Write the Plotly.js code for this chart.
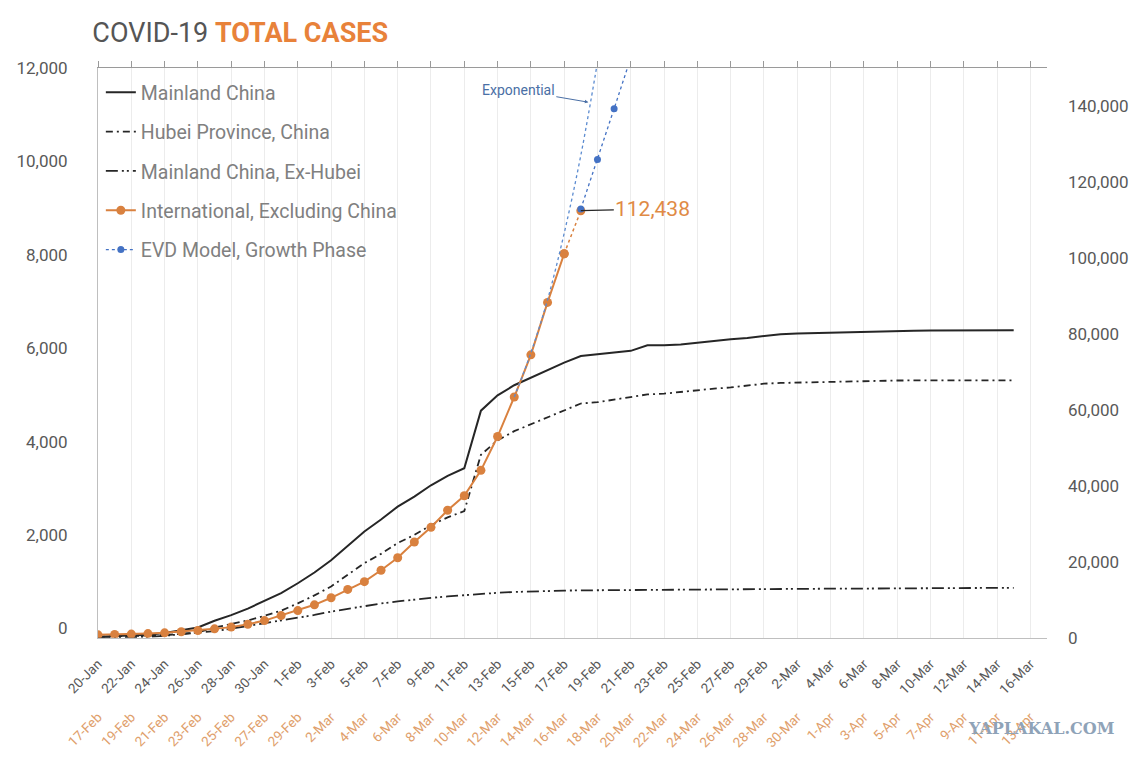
<!DOCTYPE html>
<html>
<head>
<meta charset="utf-8">
<script src="https://cdn.plot.ly/plotly-3.0.1.min.js"></script>
<style>
  html, body { margin: 0; padding: 0; background: #fff; }
  #chart { width: 1140px; height: 759px; }
</style>
</head>
<body>
<div id="chart"></div>
<script>
// tick labels: China timeline (top row) and international timeline shifted 28 days (orange row)
const chinaTicks = ['20-Jan', '22-Jan', '24-Jan', '26-Jan', '28-Jan', '30-Jan', '1-Feb', '3-Feb', '5-Feb', '7-Feb',
    '9-Feb', '11-Feb', '13-Feb', '15-Feb', '17-Feb', '19-Feb', '21-Feb', '23-Feb', '25-Feb', '27-Feb', '29-Feb',
    '2-Mar', '4-Mar', '6-Mar', '8-Mar', '10-Mar', '12-Mar', '14-Mar', '16-Mar'];
const intlTicks = ['17-Feb', '19-Feb', '21-Feb', '23-Feb', '25-Feb', '27-Feb', '29-Feb', '2-Mar', '4-Mar', '6-Mar',
    '8-Mar', '10-Mar', '12-Mar', '14-Mar', '16-Mar', '18-Mar', '20-Mar', '22-Mar', '24-Mar', '26-Mar', '28-Mar',
    '30-Mar', '1-Apr', '3-Apr', '5-Apr', '7-Apr', '9-Apr', '11-Apr', '13-Apr'];

// daily totals, 20-Jan .. 15-Mar
const mainlandChina = [291, 440, 571, 830, 1287, 1975, 2744, 4515, 5974, 7711, 9692, 11791,
    14380, 17205, 20438, 24324, 28018, 31161, 34546, 37198, 40171, 42638, 44653, 59804, 63851, 66492,
    68500, 70548, 72436, 74185, 74576, 75077, 75550, 77001, 77022, 77241, 77754, 78166, 78600, 78928, 79356,
    79932, 80136, 80261, 80380, 80497, 80667, 80768, 80814, 80859, 80879, 80908, 80932, 80954, 80973, 80995];
const hubei = [270, 375, 444, 549, 729, 1052, 1423, 2714, 3554, 4586, 5806, 7153,
    9074, 11177, 13522, 16678, 19665, 22112, 24953, 27100, 29631, 31728, 33366, 48206, 51986, 54406,
    56249, 58182, 59989, 61682, 62031, 62662, 63454, 64084, 64287, 64786, 65187, 65596, 65914, 66337, 66907,
    67103, 67217, 67332, 67466, 67592, 67666, 67707, 67743, 67760, 67773, 67781, 67786, 67790, 67794, 67798];
const exHubei = [21, 65, 127, 281, 558, 923, 1321, 1801, 2420, 3125, 3886, 4638,
    5306, 6028, 6916, 7646, 8353, 9049, 9593, 10098, 10540, 10910, 11287, 11598, 11865, 12086,
    12251, 12366, 12447, 12503, 12545, 12588, 12612, 12650, 12690, 12720, 12750, 12780, 12800, 12830, 12860,
    12880, 12910, 12930, 12950, 12960, 12990, 13030, 13050, 13070, 13080, 13110, 13130, 13140, 13160, 13180];

// international, excluding China, 17-Feb .. 17-Mar
const international = [800, 880, 1000, 1130, 1330, 1620, 1950, 2370, 2830, 3590, 4550, 5870, 7180, 8700,
    10550, 12750, 14800, 17800, 21100, 25250, 29100, 33600, 37400, 44100, 53000, 63400, 74500, 88300,
    101100, 112438];

// model curves (international timeline, day index)
const expDay = [25, 26, 27, 28, 29, 30];
const expCases = [63400, 75000, 89000, 106500, 127000, 151500];
const evdDay = [29, 30, 31, 32];
const evdCases = [112900, 125900, 139300, 152700];

const ORANGE = '#d9813f';
const BLUE = '#4472c4';
const INK = '#262626';
const GREY_TXT = '#595959';

const chinaX = mainlandChina.map((_, i) => i);
const intlX = international.map((_, i) => i);
const tickPos = chinaTicks.map((_, i) => i * 2);
const lastSolid = international.length - 1;

const traces = [
    {
        name: 'Mainland China', x: chinaX, y: mainlandChina, xaxis: 'x', yaxis: 'y2',
        type: 'scatter', mode: 'lines', line: {color: INK, width: 2}, legendgroup: 'a'
    },
    {
        name: 'Hubei Province, China', x: chinaX, y: hubei, xaxis: 'x', yaxis: 'y2',
        type: 'scatter', mode: 'lines', line: {color: INK, width: 1.8, dash: '7px,4px,2px,4px'}, legendgroup: 'b'
    },
    {
        name: 'Mainland China, Ex-Hubei', x: chinaX, y: exHubei, xaxis: 'x', yaxis: 'y2',
        type: 'scatter', mode: 'lines', line: {color: INK, width: 1.8, dash: '12px,4px,2px,3px,2px,4px'}, legendgroup: 'c'
    },
    {
        name: 'International, Excluding China', x: intlX.slice(0, lastSolid), y: international.slice(0, lastSolid),
        xaxis: 'x2', yaxis: 'y2', type: 'scatter', mode: 'lines+markers',
        line: {color: ORANGE, width: 2}, marker: {color: ORANGE, size: 9}, legendgroup: 'd'
    },
    {
        name: 'International (latest)', x: intlX.slice(lastSolid - 1), y: international.slice(lastSolid - 1),
        xaxis: 'x2', yaxis: 'y2', type: 'scatter', mode: 'lines+markers', showlegend: false,
        line: {color: ORANGE, width: 1.5, dash: 'dot'}, marker: {color: ORANGE, size: 9}, legendgroup: 'd'
    },
    {
        name: 'Exponential', x: expDay, y: expCases, xaxis: 'x2', yaxis: 'y2', type: 'scatter',
        mode: 'lines', line: {color: '#5b8bd0', width: 1.3, dash: 'dot', shape: 'spline'}, showlegend: false
    },
    {
        name: 'EVD Model, Growth Phase', x: evdDay, y: evdCases, xaxis: 'x2', yaxis: 'y2', type: 'scatter',
        mode: 'lines+markers', line: {color: BLUE, width: 1.3, dash: 'dot'}, marker: {color: BLUE, size: 7},
        legendgroup: 'e'
    },
    // empty traces so the left axis and the top tick axis get drawn
    {x: [null], y: [null], xaxis: 'x', yaxis: 'y', showlegend: false, hoverinfo: 'skip', mode: 'lines'},
    {x: [null], y: [null], xaxis: 'x3', yaxis: 'y2', showlegend: false, hoverinfo: 'skip', mode: 'lines'}
];

const FONT = 'Roboto, "Open Sans", sans-serif';

const layout = {
    width: 1140,
    height: 759,
    margin: {t: 68, l: 98, r: 93, b: 62},
    paper_bgcolor: '#ffffff',
    plot_bgcolor: '#ffffff',
    font: {family: FONT, color: GREY_TXT},
    title: {
        text: 'COVID-19 <b><span style="color:#e8823a">TOTAL CASES</span></b>',
        font: {family: FONT, size: 27, color: '#555555'},
        xref: 'container', x: 0.081, xanchor: 'left',
        yref: 'container', y: 0.957, yanchor: 'middle'
    },
    showlegend: true,
    legend: {
        x: 0.003, y: 0.992, xanchor: 'left', yanchor: 'top',
        bgcolor: 'rgba(0,0,0,0)',
        font: {family: FONT, size: 19.5, color: '#808080'},
        traceorder: 'grouped', tracegroupgap: 11
    },
    xaxis: {
        range: [0, 57], tickvals: tickPos, ticktext: chinaTicks, tickangle: -45,
        tickfont: {size: 13.5, color: GREY_TXT},
        ticks: 'outside', ticklen: 12, tickcolor: 'rgba(0,0,0,0)',
        showgrid: true, gridcolor: '#ececec', gridwidth: 1,
        showline: true, linecolor: '#bfbfbf', zeroline: false, anchor: 'y'
    },
    xaxis2: {
        overlaying: 'x', anchor: 'free', position: 0, range: [0, 57],
        tickvals: tickPos, ticktext: intlTicks, tickangle: -45,
        ticks: 'outside', ticklen: 6, tickcolor: 'rgba(0,0,0,0)',
        tickfont: {size: 13.5, color: '#e0a06c'}, showgrid: false, showline: false, zeroline: false
    },
    xaxis3: {
        overlaying: 'x', side: 'top', anchor: 'y', range: [0, 57], tickvals: tickPos,
        showticklabels: false, ticks: 'outside', ticklen: 6, tickcolor: '#9a9a9a',
        showgrid: false, showline: true, linecolor: '#9a9a9a', zeroline: false
    },
    yaxis: {
        domain: [0.094, 1], range: [-200, 12000], tickvals: [0, 2000, 4000, 6000, 8000, 10000, 12000],
        tickformat: ',', tickfont: {size: 17, color: GREY_TXT}, ticklabelstandoff: 26,
        showgrid: false, showline: true, linecolor: '#bfbfbf', zeroline: false, ticks: ''
    },
    yaxis2: {
        overlaying: 'y', side: 'right', anchor: 'x', range: [0, 150000],
        tickvals: [0, 20000, 40000, 60000, 80000, 100000, 120000, 140000], tickformat: ',',
        tickfont: {size: 17, color: GREY_TXT}, ticklabelstandoff: 20,
        showgrid: false, showline: false, zeroline: false, ticks: ''
    },
    annotations: [
        {
            x: 29, y: 112438, xref: 'x', yref: 'y2', text: '112,438',
            showarrow: true, arrowhead: 0, arrowwidth: 1.3, arrowcolor: INK, ax: 72, ay: -2,
            font: {family: FONT, size: 21, color: '#e08a45'}
        },
        {
            x: 29.45, y: 141000, xref: 'x', yref: 'y2', text: 'Exponential',
            showarrow: true, arrowhead: 2, arrowsize: 0.7, arrowwidth: 1, arrowcolor: '#4a6fa5', ax: -70, ay: -12,
            font: {family: FONT, size: 14, color: '#4a6fa5'}
        },
        {
            x: 1.073, y: -0.05, xref: 'paper', yref: 'paper', xanchor: 'right', yanchor: 'middle',
            text: '<b>YAPLAKAL.COM</b>', showarrow: false,
            font: {family: '"DejaVu Serif", serif', size: 16, color: '#8fa3b8'}
        }
    ]
};

Plotly.newPlot('chart', traces, layout, {displayModeBar: false, responsive: false});
</script>
</body>
</html>
